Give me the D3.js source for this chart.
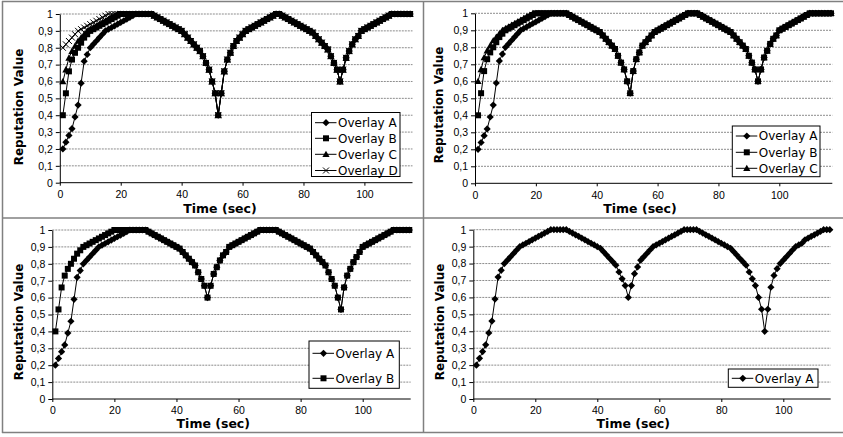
<!DOCTYPE html>
<html>
<head>
<meta charset="utf-8">
<script src="https://cdn.jsdelivr.net/npm/d3@7"></script>
<style>
body { margin: 0; background: #fff; }
svg { display: block; }
</style>
</head>
<body>
<div id="chart"></div>
<script>
// sample times (sec)
var times = d3.range(1, 118);
var xTicks = [0, 20, 40, 60, 80, 100];
var yTicks = [0, 0.1, 0.2, 0.3, 0.4, 0.5, 0.6, 0.7, 0.8, 0.9, 1];

// start-up phase t = 1..25
var headA = [0.2,0.24,0.28,0.32,0.39,0.46,0.59,0.72,0.76,0.8,0.82,0.84,0.86,0.88,0.9,0.91,0.92,0.93,0.94,0.95,0.96,0.97,0.98,0.99,1];
var headB = [0.4,0.53,0.66,0.73,0.77,0.8,0.83,0.86,0.88,0.9,0.91,0.92,0.93,0.94,0.95,0.96,0.97,0.98,0.99,1,1,1,1,1,1];
var headC = [0.6,0.67,0.74,0.78,0.81,0.84,0.86,0.88,0.9,0.91,0.92,0.93,0.94,0.95,0.96,0.97,0.98,0.99,1,1,1,1,1,1,1];
var headD = [0.8,0.82,0.84,0.86,0.88,0.9,0.91,0.92,0.93,0.94,0.95,0.96,0.97,0.98,0.99,1,1,1,1,1,1,1,1,1,1];

// t = 26..end, shared by all overlays of a panel
var tail1 = [1,1,1,1,1,0.99,0.98,0.97,0.96,0.95,0.94,0.93,0.92,0.91,0.9,0.88,0.86,0.84,0.82,0.8,0.78,
  0.75,0.71,0.67,0.6,0.53,0.4,0.53,0.66,0.73,0.77,0.81,0.84,0.86,0.88,0.9,
  0.91,0.92,0.93,0.94,0.95,0.96,0.97,0.98,0.99,1,1,0.99,0.98,0.97,0.96,0.95,0.94,0.93,0.92,0.91,0.9,
  0.89,0.87,0.85,0.83,0.81,0.79,0.75,0.71,0.67,0.6,0.67,0.74,0.78,0.82,0.85,0.87,0.9,
  0.91,0.92,0.93,0.94,0.95,0.96,0.97,0.98,0.99,1,1,1,1,1,1,1];
var tail2 = [1,1,1,1,1,0.99,0.98,0.97,0.96,0.95,0.94,0.93,0.92,0.91,0.9,0.89,0.87,0.85,0.83,0.81,0.79,
  0.75,0.71,0.67,0.6,0.53,0.66,0.73,0.77,0.81,0.83,0.85,0.87,0.89,
  0.9,0.91,0.92,0.93,0.94,0.95,0.96,0.97,0.98,0.99,1,1,1,1,0.99,0.98,0.97,0.96,0.95,0.94,0.93,0.92,0.91,0.9,
  0.89,0.87,0.85,0.83,0.81,0.79,0.75,0.71,0.67,0.6,0.67,0.74,0.78,0.82,0.85,0.87,0.9,
  0.91,0.92,0.93,0.94,0.95,0.96,0.97,0.98,0.99,1,1,1,1,1,1,1,1];
var tail3 = [1,1,1,1,1,0.99,0.98,0.97,0.96,0.95,0.94,0.93,0.92,0.91,0.9,0.89,0.87,0.85,0.83,0.81,0.79,
  0.75,0.71,0.67,0.6,0.67,0.74,0.78,0.82,0.85,0.87,0.9,
  0.91,0.92,0.93,0.94,0.95,0.96,0.97,0.98,0.99,1,1,1,1,1,1,0.99,0.98,0.97,0.96,0.95,0.94,0.93,0.92,0.91,0.9,
  0.89,0.87,0.85,0.83,0.81,0.79,0.75,0.71,0.67,0.6,0.53,0.66,0.73,0.77,0.81,0.84,0.87,0.9,
  0.91,0.92,0.93,0.94,0.95,0.96,0.97,0.98,0.99,1,1,1,1,1,1];
var tail4 = [1,1,1,1,1,0.99,0.98,0.97,0.96,0.95,0.94,0.93,0.92,0.91,0.9,0.89,0.87,0.85,0.83,0.81,0.79,
  0.75,0.71,0.67,0.6,0.67,0.74,0.78,0.82,0.84,0.86,0.88,0.9,
  0.91,0.92,0.93,0.94,0.95,0.96,0.97,0.98,0.99,1,1,1,1,1,0.99,0.98,0.97,0.96,0.95,0.94,0.93,0.92,0.91,0.9,
  0.89,0.87,0.85,0.83,0.81,0.79,0.75,0.71,0.67,0.6,0.53,0.4,0.53,0.66,0.73,0.77,0.8,
  0.82,0.84,0.86,0.88,0.9,0.91,0.92,0.94,0.95,0.96,0.97,0.98,0.99,1,1,1];

var names = ["Overlay A", "Overlay B", "Overlay C", "Overlay D"];

var panels = [
  { series: [headA.concat(tail1), headB.concat(tail1), headC.concat(tail1), headD.concat(tail1)],
    x0: 59.8, ppu: 3.046, yTop: 14, yBot: 182.7, right: 412.5, yTitleX: 19, yTitleY: 107, xTitleX: 220, xTitleY: 213,
    legend: { x: 311.5, y: 112.5, w: 88.5, h: 64, rows: [122.7, 138.3, 154.3, 170.5] } },
  { series: [headA.concat(tail2), headB.concat(tail2), headC.concat(tail2)],
    x0: 475, ppu: 3.043, yTop: 13.3, yBot: 183.3, right: 832.3, yTitleX: 438.3, yTitleY: 105, xTitleX: 640, xTitleY: 212.7,
    legend: { x: 732.3, y: 126, w: 87.7, h: 50.7, rows: [136, 152.3, 168.3] } },
  { series: [headA.concat(tail3), headB.concat(tail3)],
    x0: 52.3, ppu: 3.104, yTop: 230, yBot: 399, right: 410.7, yTitleX: 18.3, yTitleY: 322, xTitleX: 213.3, xTitleY: 428.3,
    legend: { x: 309, y: 341, w: 90.3, h: 47.3, rows: [353.3, 378.3] } },
  { series: [headA.concat(tail4)],
    x0: 473.3, ppu: 3.1, yTop: 229.7, yBot: 399, right: 830.7, yTitleX: 439.3, yTitleY: 322, xTitleX: 633.3, xTitleY: 427.7,
    legend: { x: 728.3, y: 369, w: 89.7, h: 18.3, rows: [378.3] } }
];

var svg = d3.select("#chart")
  .append("svg")
    .attr("width", 843)
    .attr("height", 437)
    .style("font-family", "'DejaVu Sans', Verdana, sans-serif");

function fmt(d) {
  if (d === 0) return "0";
  if (d === 1) return "1";
  return d.toFixed(1).replace(".", ",");
}

// marker shapes: diamond, square, triangle, x
function drawMarker(g, k, cx, cy) {
  var m = g.append("path").attr("transform", "translate(" + cx + "," + cy + ")");
  if (k === 0) {
    m.attr("d", "M0,-3.6L3.6,0L0,3.6L-3.6,0Z").attr("fill", "#000");
  } else if (k === 1) {
    m.attr("d", "M-3,-3H3V3H-3Z").attr("fill", "#000");
  } else if (k === 2) {
    m.attr("d", "M0,-3.6L3.6,2.8H-3.6Z").attr("fill", "#000");
  } else {
    m.attr("d", "M-3,-3L3,3M-3,3L3,-3").attr("fill", "none").attr("stroke", "#000").attr("stroke-width", 1);
  }
}

function drawPanel(p) {
  var g = svg.append("g");
  var x = d3.scaleLinear().domain([0, 100]).range([p.x0, p.x0 + 100 * p.ppu]);
  var y = d3.scaleLinear().domain([0, 1]).range([p.yBot, p.yTop]);

  // dashed gridlines
  g.append("g").selectAll("line")
    .data(yTicks.filter(function(d) { return d > 0; }))
    .enter().append("line")
      .attr("x1", p.x0).attr("x2", p.right)
      .attr("y1", function(d) { return y(d); })
      .attr("y2", function(d) { return y(d); })
      .attr("stroke", "#8c8c8c")
      .attr("stroke-width", 1)
      .attr("stroke-dasharray", "2,1");

  // y axis
  var gy = g.append("g")
    .attr("transform", "translate(" + p.x0 + ",0)")
    .call(d3.axisLeft(y).tickValues(yTicks).tickFormat(fmt).tickSize(4).tickSizeOuter(0).tickPadding(3));
  gy.selectAll("text").attr("font-size", 10.5).attr("font-family", null).attr("fill", "#000");
  gy.selectAll("line, path").attr("stroke", "#000");

  // x axis
  var gx = g.append("g")
    .attr("transform", "translate(0," + p.yBot + ")")
    .call(d3.axisBottom(x).tickValues(xTicks).tickSize(3).tickSizeOuter(0).tickPadding(5));
  gx.select(".domain").remove();
  gx.append("line").attr("x1", p.x0).attr("x2", p.right).attr("stroke", "#000");
  gx.selectAll("text").attr("font-size", 10.5).attr("font-family", null).attr("fill", "#000");
  gx.selectAll("line").attr("stroke", "#000");

  // titles
  g.append("text")
    .attr("transform", "translate(" + p.yTitleX + "," + p.yTitleY + ") rotate(-90)")
    .attr("text-anchor", "middle").attr("dy", "0.35em")
    .attr("font-size", 12).attr("font-weight", "bold")
    .text("Reputation Value");
  g.append("text")
    .attr("x", p.xTitleX).attr("y", p.xTitleY)
    .attr("text-anchor", "middle")
    .attr("font-size", 12.5).attr("font-weight", "bold")
    .text("Time (sec)");

  // series
  var line = d3.line()
    .x(function(d) { return x(d[0]); })
    .y(function(d) { return y(d[1]); });
  p.series.forEach(function(vals, k) {
    var pts = vals.map(function(v, i) { return [times[i], v]; });
    g.append("path").datum(pts)
      .attr("d", line)
      .attr("fill", "none")
      .attr("stroke", "#000")
      .attr("stroke-width", 1);
    pts.forEach(function(d) { drawMarker(g, k, x(d[0]), y(d[1])); });
  });

  // legend
  var L = p.legend;
  g.append("rect")
    .attr("x", L.x).attr("y", L.y).attr("width", L.w).attr("height", L.h)
    .attr("fill", "#fff").attr("stroke", "#000").attr("stroke-width", 1);
  L.rows.forEach(function(ry, k) {
    g.append("line").attr("x1", L.x + 3.5).attr("x2", L.x + 25).attr("y1", ry).attr("y2", ry).attr("stroke", "#000");
    drawMarker(g, k, L.x + 14.5, ry);
    g.append("text").attr("x", L.x + 26.5).attr("y", ry).attr("dy", "0.35em")
      .attr("font-size", 12).text(names[k]);
  });
}

panels.forEach(drawPanel);

// frame and dividers
var frame = svg.append("g").attr("stroke", "#808080").attr("stroke-width", 1.5).attr("fill", "none");
frame.append("line").attr("x1", 2).attr("x2", 843).attr("y1", 1.5).attr("y2", 1.5);
frame.append("line").attr("x1", 2.5).attr("x2", 2.5).attr("y1", 1).attr("y2", 433);
frame.append("line").attr("x1", 2).attr("x2", 843).attr("y1", 432.5).attr("y2", 432.5);
frame.append("line").attr("x1", 2).attr("x2", 843).attr("y1", 218).attr("y2", 218);
frame.append("line").attr("x1", 423.5).attr("x2", 423.5).attr("y1", 1).attr("y2", 433);
</script>
</body>
</html>
